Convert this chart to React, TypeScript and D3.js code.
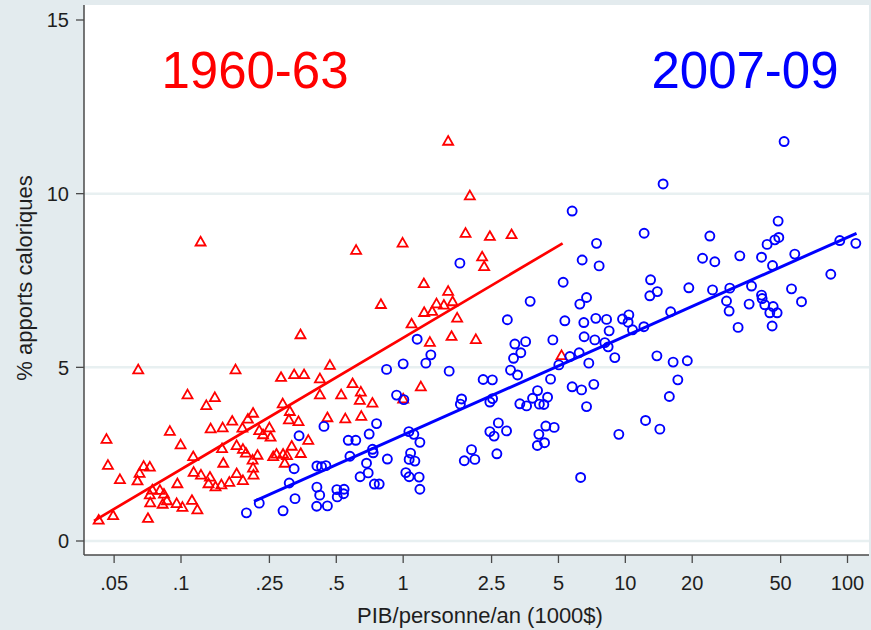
import React from "react";
import * as d3 from "d3";

// GDP per person per year (thousand $) and share of calories (%), 1960-63
const RED_GDP = [
  0.345, 0.0642, 0.176, 0.282, 0.323, 0.358, 0.422, 0.107, 0.142, 0.13,
  0.287, 0.309, 0.211, 0.2, 0.17, 0.136, 0.154, 0.0891, 0.189, 0.225,
  0.25, 0.234, 0.253, 0.306, 0.338, 0.0462, 0.0996, 0.374, 0.315, 0.178,
  0.153, 0.19, 0.196, 0.269, 0.288, 0.221, 0.26, 0.3, 0.346, 0.1135,
  0.21, 0.0469, 0.0679, 0.0724, 0.155, 0.293, 0.211, 0.114, 0.123, 0.178,
  0.212, 0.0651, 0.0531, 0.0637, 0.135, 0.133, 0.143, 0.152, 0.165, 0.19,
  0.0963, 0.0743, 0.0804, 0.0724, 0.0838, 0.0864, 0.0827, 0.0956, 0.1015, 0.112,
  0.1185, 0.0727, 0.0495, 0.0426, 0.071, 0.468, 0.422, 0.592, 0.526, 0.645,
  0.638, 0.727, 1.201, 1.0, 0.456, 0.549, 0.648, 0.614, 0.1225, 1.594,
  1.996, 1.909, 2.456, 3.075, 0.994, 2.267, 2.315, 1.239, 1.594, 1.669,
  1.413, 1.525, 0.794, 1.351, 1.243, 1.75, 1.091, 1.651, 1.319, 2.124,
  5.163,
];
const RED_PCT = [
  5.93, 4.92, 4.92, 4.7, 4.78, 4.78, 4.66, 4.2, 4.12, 3.89,
  3.94, 3.72, 3.67, 3.5, 3.44, 3.22, 3.25, 3.15, 3.24, 3.17,
  3.25, 3.05, 2.98, 3.48, 3.43, 2.92, 2.76, 2.89, 2.72, 2.74,
  2.65, 2.63, 2.52, 2.49, 2.49, 2.46, 2.42, 2.45, 2.51, 2.42,
  2.32, 2.17, 2.14, 2.12, 2.23, 2.23, 2.09, 1.97, 1.89, 1.93,
  1.89, 1.94, 1.76, 1.72, 1.83, 1.64, 1.55, 1.61, 1.68, 1.73,
  1.64, 1.46, 1.45, 1.32, 1.34, 1.15, 1.05, 1.07, 0.96, 1.16,
  0.89, 1.09, 0.72, 0.59, 0.64, 5.05, 4.2, 4.52, 4.2, 4.28,
  4.04, 3.96, 4.43, 4.08, 3.54, 3.51, 3.58, 8.36, 8.6, 11.5,
  9.93, 8.85, 8.76, 8.81, 8.57, 8.17, 7.89, 7.4, 7.18, 6.88,
  6.82, 6.78, 6.8, 6.6, 6.57, 6.41, 6.24, 5.88, 5.71, 5.79,
  5.33,
];

// Same measures, 2007-09
const BLUE_GDP = [
  0.197, 0.225, 0.288, 0.326, 0.307, 0.323, 0.34, 0.44, 0.409, 0.429,
  0.449, 0.409, 0.421, 0.408, 0.456, 0.503, 0.542, 0.505, 0.539, 0.576,
  0.566, 0.612, 0.64, 0.684, 0.696, 0.703, 0.759, 0.728, 0.733, 0.742,
  0.78, 0.849, 1.007, 1.061, 1.117, 1.189, 1.08, 1.064, 1.129, 1.028,
  1.064, 1.18, 1.189, 0.842, 1.0, 1.265, 1.611, 2.291, 2.52, 0.934,
  1.832, 1.809, 2.526, 2.456, 2.456, 2.566, 2.682, 2.641, 2.031, 1.884,
  2.102, 1.8, 3.729, 2.944, 1.156, 1.332, 3.182, 3.558, 3.385, 3.139,
  3.043, 3.272, 4.718, 14.79, 5.762, 12.15, 7.419, 6.392, 7.622, 5.25,
  12.99, 12.89, 13.93, 19.31, 6.69, 6.24, 5.342, 6.504, 7.364, 8.232,
  9.714, 10.37, 10.29, 10.77, 12.12, 15.99, 8.454, 6.525, 7.288, 8.087,
  8.367, 5.627, 6.196, 6.848, 8.967, 5.02, 13.87, 16.41, 19.01, 17.23,
  15.78, 4.607, 4.026, 5.762, 6.353, 7.213, 6.69, 4.467, 3.823, 4.102,
  4.297, 3.351, 3.593, 2.92, 4.387, 4.782, 4.081, 4.018, 4.329, 9.348,
  12.33, 14.3, 6.292, 51.84, 48.72, 24.01, 47.08, 49.07, 43.46, 92.33,
  109.0, 22.26, 25.28, 32.75, 41.02, 57.9, 45.98, 84.1, 24.69, 29.53,
  36.98, 41.02, 41.28, 55.98, 28.54, 29.32, 36.07, 42.44, 46.27, 44.7,
  48.22, 62.09, 32.18, 45.79,
];
const BLUE_PCT = [
  0.81, 1.09, 0.87, 1.22, 1.67, 2.08, 3.03, 3.3, 2.16, 2.14,
  2.17, 1.55, 1.32, 1.0, 1.01, 1.48, 1.49, 1.27, 1.36, 2.44,
  2.9, 2.9, 1.85, 2.24, 1.96, 3.08, 3.38, 2.64, 2.54, 1.64,
  1.64, 2.36, 4.07, 3.15, 3.07, 2.84, 2.53, 2.35, 2.3, 1.97,
  1.85, 1.84, 1.49, 4.94, 5.1, 5.12, 4.89, 4.65, 4.64, 4.2,
  4.09, 3.94, 4.1, 4.0, 3.15, 3.02, 3.4, 2.51, 2.63, 2.31,
  2.35, 8.0, 6.9, 6.37, 5.81, 5.36, 5.67, 5.74, 5.42, 5.26,
  4.92, 4.78, 5.79, 10.28, 9.5, 8.86, 8.57, 8.09, 7.92, 7.45,
  7.52, 7.06, 7.18, 7.29, 7.01, 6.82, 6.34, 6.29, 6.41, 6.38,
  6.39, 6.51, 6.3, 6.08, 6.17, 6.6, 6.05, 5.88, 5.79, 5.71,
  5.59, 5.31, 5.42, 5.12, 5.28, 5.07, 5.33, 5.15, 5.19, 4.64,
  4.16, 4.66, 4.33, 4.44, 4.35, 4.51, 3.87, 4.14, 4.11, 3.94,
  3.93, 3.95, 3.89, 3.17, 3.31, 3.27, 3.07, 2.75, 2.83, 3.07,
  3.47, 3.22, 1.83, 11.5, 9.21, 8.78, 8.67, 8.74, 8.54, 8.65,
  8.57, 8.14, 8.04, 8.21, 8.17, 8.26, 7.93, 7.68, 7.23, 7.28,
  7.34, 7.08, 6.98, 7.26, 6.91, 6.62, 6.82, 6.8, 6.75, 6.57,
  6.57, 6.89, 6.15, 6.19,
];

// Fitted lines (log GDP vs %), start and end points
const RED_FIT_GDP = [0.0406, 5.22];
const RED_FIT_PCT = [0.58, 8.57];
const BLUE_FIT_GDP = [0.213, 109.8];
const BLUE_FIT_PCT = [1.14, 8.86];

const X_TICKS = [0.05, 0.1, 0.25, 0.5, 1, 2.5, 5, 10, 20, 50, 100];
const X_TICK_LABELS = [".05", ".1", ".25", ".5", "1", "2.5", "5", "10", "20", "50", "100"];
const Y_TICKS = [0, 5, 10, 15];
const Y_GRID = [0, 5, 10];

const W = 871;
const H = 630;
const PLOT = { left: 84, right: 869, top: 5, bottom: 555 };
const BG = "#E3EBEE";
const GRID = "#E8F0F1";
const AXIS = "#4a4a4a";
const RED = "#FF0000";
const BLUE = "#0000FF";
const FONT = "'Liberation Sans', Arial, Helvetica, sans-serif";

const x = d3.scaleLog().domain([0.1, 100]).range([181, 847.5]);
const y = d3.scaleLinear().domain([0, 15]).range([541, 20]);

const triangle = (cx: number, cy: number) => {
  const p = d3.path();
  p.moveTo(cx, cy - 5.5);
  p.lineTo(cx + 5, cy + 3.2);
  p.lineTo(cx - 5, cy + 3.2);
  p.closePath();
  return p.toString();
};

const fitLine = d3
  .line<[number, number]>()
  .x((d) => x(d[0]))
  .y((d) => y(d[1]));

export default function App() {
  const redPts = RED_GDP.map((g, i) => [g, RED_PCT[i]] as [number, number]);
  const bluePts = BLUE_GDP.map((g, i) => [g, BLUE_PCT[i]] as [number, number]);
  const redFit = RED_FIT_GDP.map((g, i) => [g, RED_FIT_PCT[i]] as [number, number]);
  const blueFit = BLUE_FIT_GDP.map((g, i) => [g, BLUE_FIT_PCT[i]] as [number, number]);

  return (
    <svg
      width={W}
      height={H}
      style={{ position: "absolute", left: 0, top: 0, display: "block" }}
      fontFamily={FONT}
    >
      <rect x={0} y={0} width={W} height={H} fill={BG} />
      <rect
        x={PLOT.left}
        y={PLOT.top}
        width={PLOT.right - PLOT.left}
        height={PLOT.bottom - PLOT.top}
        fill="#FFFFFF"
      />
      {Y_GRID.map((v) => (
        <line
          key={`g${v}`}
          x1={PLOT.left}
          x2={PLOT.right}
          y1={y(v)}
          y2={y(v)}
          stroke={GRID}
          strokeWidth={2.5}
        />
      ))}

      {/* axes */}
      <line x1={PLOT.left} x2={PLOT.left} y1={PLOT.top} y2={PLOT.bottom} stroke={AXIS} strokeWidth={1.5} />
      <line x1={PLOT.left} x2={PLOT.right} y1={PLOT.bottom} y2={PLOT.bottom} stroke={AXIS} strokeWidth={1.5} />
      {Y_TICKS.map((v) => (
        <g key={`yt${v}`}>
          <line x1={PLOT.left - 8} x2={PLOT.left} y1={y(v)} y2={y(v)} stroke={AXIS} strokeWidth={1.3} />
          <text x={69} y={y(v)} dy="0.36em" textAnchor="end" fontSize={20} fill="#1e1e1e">
            {v}
          </text>
        </g>
      ))}
      {X_TICKS.map((v, i) => (
        <g key={`xt${v}`}>
          <line x1={x(v)} x2={x(v)} y1={PLOT.bottom} y2={PLOT.bottom + 8} stroke={AXIS} strokeWidth={1.3} />
          <text x={x(v)} y={590} textAnchor="middle" fontSize={20} fill="#1e1e1e">
            {X_TICK_LABELS[i]}
          </text>
        </g>
      ))}
      <text x={480} y={623} textAnchor="middle" fontSize={22} fill="#1e1e1e">
        PIB/personne/an (1000$)
      </text>
      <text
        transform="translate(31.5,278) rotate(-90)"
        textAnchor="middle"
        fontSize={22}
        fill="#1e1e1e"
      >
        % apports caloriques
      </text>

      {/* period labels */}
      <text x={255} y={88} textAnchor="middle" fontSize={51} fill={RED}>
        1960-63
      </text>
      <text x={745} y={88} textAnchor="middle" fontSize={51} fill={BLUE}>
        2007-09
      </text>

      {/* markers */}
      {redPts.map((d, i) => (
        <path key={`r${i}`} d={triangle(x(d[0]), y(d[1]))} fill="none" stroke={RED} strokeWidth={1.8} strokeLinejoin="miter" />
      ))}
      {bluePts.map((d, i) => (
        <circle key={`b${i}`} cx={x(d[0])} cy={y(d[1])} r={4.5} fill="none" stroke={BLUE} strokeWidth={1.9} />
      ))}

      {/* fitted lines */}
      <path d={fitLine(redFit) || ""} fill="none" stroke={RED} strokeWidth={2.7} />
      <path d={fitLine(blueFit) || ""} fill="none" stroke={BLUE} strokeWidth={3} />
    </svg>
  );
}
